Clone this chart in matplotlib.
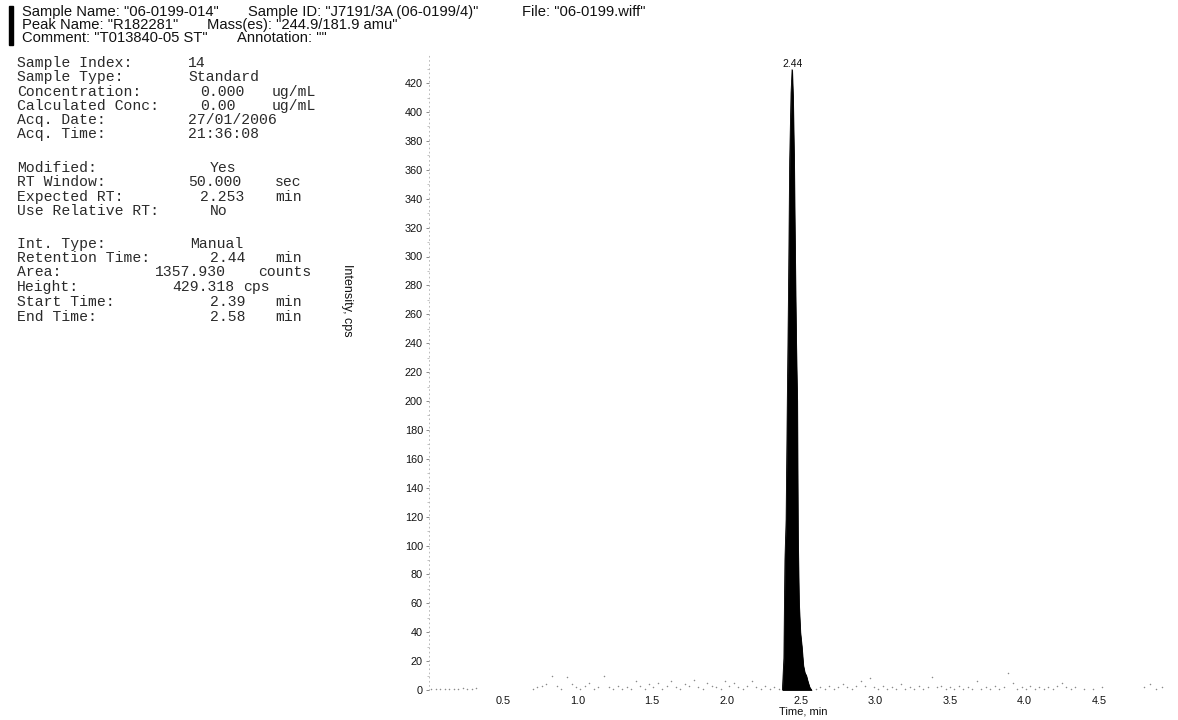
import matplotlib
matplotlib.use("Agg")
import matplotlib.pyplot as plt
from matplotlib.patches import Rectangle

# ---- data -------------------------------------------------------------
# integrated peak (R182281, 244.9/181.9 amu)
peak_time = [2.375, 2.385, 2.392, 2.400, 2.408, 2.416, 2.424, 2.433, 2.440,
             2.446, 2.453, 2.460, 2.467, 2.474, 2.479, 2.486, 2.495, 2.505,
             2.515, 2.525, 2.535, 2.545, 2.557, 2.570]
peak_cps = [0, 22, 90, 118, 200, 275, 367, 413, 429.318,
            410, 367, 298, 240, 200, 105, 60, 40, 30,
            17, 12, 10, 6, 2, 0]
apex_time = 2.44
apex_cps = 429.318

# baseline noise outside the peak
noise_time = [0.02, 0.05, 0.08, 0.11, 0.14, 0.17, 0.20, 0.23, 0.26, 0.29, 0.32,
              0.70, 0.73, 0.76, 0.79, 0.83, 0.86, 0.89, 0.93, 0.96, 0.99,
              1.02, 1.05, 1.08, 1.11, 1.14, 1.18, 1.21, 1.24, 1.27, 1.30,
              1.33, 1.36, 1.39, 1.42, 1.45, 1.48, 1.51, 1.54, 1.57, 1.60,
              1.63, 1.66, 1.69, 1.72, 1.75, 1.78, 1.81, 1.84, 1.87, 1.90,
              1.93, 1.96, 1.99, 2.02, 2.05, 2.08, 2.11, 2.14, 2.17, 2.20,
              2.23, 2.26, 2.29, 2.32, 2.35,
              2.60, 2.63, 2.66, 2.69, 2.72, 2.75, 2.78, 2.81, 2.84, 2.87,
              2.90, 2.93, 2.96, 2.99, 3.02, 3.05, 3.08, 3.11, 3.14, 3.17,
              3.20, 3.23, 3.26, 3.29, 3.32, 3.35, 3.38, 3.41, 3.44, 3.47,
              3.50, 3.53, 3.56, 3.59, 3.62, 3.65, 3.68, 3.71, 3.74, 3.77,
              3.80, 3.83, 3.86, 3.89, 3.92, 3.95, 3.98, 4.01, 4.04, 4.07,
              4.10, 4.13, 4.16, 4.19, 4.22, 4.25, 4.28, 4.31, 4.34, 4.40,
              4.46, 4.52, 4.80, 4.84, 4.88, 4.92]
noise_cps = [0.5, 1.0, 0.5, 1.0, 0.5, 1.0, 0.5, 1.5, 0.5, 1.0, 1.5,
             1.0, 2.0, 3.0, 4.0, 10.0, 3.0, 1.0, 9.0, 4.0, 2.0,
             1.0, 3.0, 5.0, 1.0, 2.0, 10.0, 2.0, 1.0, 3.0, 1.0,
             2.0, 1.0, 6.0, 3.0, 1.0, 4.0, 2.0, 5.0, 1.0, 3.0,
             6.0, 2.0, 1.0, 4.0, 3.0, 7.0, 2.0, 1.0, 5.0, 3.0,
             2.0, 1.0, 6.0, 3.0, 5.0, 2.0, 1.0, 3.0, 6.0, 2.0,
             1.0, 3.0, 1.0, 2.0, 1.0,
             1.0, 2.0, 1.0, 3.0, 1.0, 2.0, 4.0, 2.0, 1.0, 3.0,
             6.0, 3.0, 8.0, 2.0, 1.0, 3.0, 1.0, 2.0, 1.0, 4.0,
             1.0, 2.0, 1.0, 3.0, 1.0, 2.0, 9.0, 2.0, 3.0, 1.0,
             2.0, 1.0, 3.0, 1.0, 2.0, 1.0, 6.0, 1.0, 2.0, 1.0,
             3.0, 1.0, 2.0, 12.0, 5.0, 1.0, 2.0, 1.0, 3.0, 1.0,
             2.0, 1.0, 2.0, 1.0, 3.0, 5.0, 2.0, 1.0, 2.0, 1.0,
             1.0, 2.0, 2.0, 4.0, 1.0, 2.0]

y_ticks = list(range(0, 440, 20))
x_ticks = [0.5, 1.0, 1.5, 2.0, 2.5, 3.0, 3.5, 4.0, 4.5]

# header fields: (line index, x-pixel, text)
header_fields = [
    (0, 22, 'Sample Name: "06-0199-014"'),
    (0, 248, 'Sample ID: "J7191/3A (06-0199/4)"'),
    (0, 522, 'File: "06-0199.wiff"'),
    (1, 22, 'Peak Name: "R182281"'),
    (1, 207, 'Mass(es): "244.9/181.9 amu"'),
    (2, 22, 'Comment: "T013840-05 ST"'),
    (2, 237, 'Annotation: ""'),
]

# (label, value, unit, y-pixel, value-x, unit-x)
info_rows = [
    ("Sample Index:", "14", "", 63, 188, 0),
    ("Sample Type:", "Standard", "", 77, 188, 0),
    ("Concentration:", "0.000", "ug/mL", 92, 200, 272),
    ("Calculated Conc:", "0.00", "ug/mL", 106, 200, 272),
    ("Acq. Date:", "27/01/2006", "", 120, 188, 0),
    ("Acq. Time:", "21:36:08", "", 134, 188, 0),
    ("Modified:", "Yes", "", 168, 210, 0),
    ("RT Window:", "50.000", "sec", 182, 188, 275),
    ("Expected RT:", "2.253", "min", 197, 200, 275),
    ("Use Relative RT:", "No", "", 211, 210, 0),
    ("Int. Type:", "Manual", "", 244, 190, 0),
    ("Retention Time:", "2.44", "min", 258, 210, 275),
    ("Area:", "1357.930", "counts", 272, 155, 258),
    ("Height:", "429.318", "cps", 287, 172, 243),
    ("Start Time:", "2.39", "min", 302, 210, 275),
    ("End Time:", "2.58", "min", 317, 210, 275),
]

# ---- figure -----------------------------------------------------------
W, H = 1178, 720
fig = plt.figure(figsize=(W / 100, H / 100), dpi=100)
fig.patch.set_facecolor("white")


def fx(px):
    return px / W


def fy(py):
    return 1 - py / H


sans = "Liberation Sans"
mono = "Liberation Mono"

# header block with black side bar
fig.patches.append(Rectangle((fx(9), fy(45)), fx(4), 39 / H, transform=fig.transFigure,
                             color="black", zorder=5))
for line_no, px, text in header_fields:
    fig.text(fx(px), fy(12 + 13.2 * line_no), text, family=sans, fontsize=10.6,
             va="center", ha="left", color="#111111")

# sample information panel
for label, value, unit, py, vx, ux in info_rows:
    fig.text(fx(17), fy(py), label, family=mono, fontsize=10.6, va="center",
             ha="left", color="#2a2a2a")
    fig.text(fx(vx), fy(py), value, family=mono, fontsize=10.6, va="center",
             ha="left", color="#2a2a2a")
    if unit:
        fig.text(fx(ux), fy(py), unit, family=mono, fontsize=10.6, va="center",
                 ha="left", color="#2a2a2a")

# chromatogram axes
x_max = 5.03
y_max = 440
ax_left, ax_bottom_px, px_per_cps = 428.5, 690, 1.445
ax = fig.add_axes([fx(ax_left), (H - ax_bottom_px) / H, (W - ax_left) / W,
                   y_max * px_per_cps / H])
ax.set_xlim(0, x_max)
ax.set_ylim(0, y_max)
ax.set_facecolor("none")

ax.scatter(noise_time, noise_cps, s=1.2, color="#8a8a8a", linewidths=0,
           clip_on=False, zorder=2)
ax.fill_between(peak_time, 0, peak_cps, color="black", linewidth=0.6,
                edgecolor="black", zorder=3)
ax.plot(peak_time, peak_cps, color="black", lw=0.6, zorder=3)
ax.annotate(f"{apex_time:.2f}", (apex_time, apex_cps), xytext=(0, 0.5),
            textcoords="offset points", ha="center", va="bottom",
            family=sans, fontsize=7.5, color="#111111")

for side in ("top", "right", "bottom"):
    ax.spines[side].set_visible(False)
ax.spines["left"].set_color("#b0b0b0")
ax.spines["left"].set_linewidth(0.6)
ax.spines["left"].set_linestyle((0, (1, 4)))

ax.set_yticks(y_ticks)
ax.set_yticks(list(range(10, 440, 20)), minor=True)
ax.tick_params(axis="y", which="major", length=2.5, width=0.6, color="#777777",
               labelsize=7.8, pad=1.5, labelcolor="#111111")
ax.tick_params(axis="y", which="minor", length=1.2, width=0.5, color="#aaaaaa")
ax.set_xticks(x_ticks)
ax.set_xticklabels([f"{t:.1f}" for t in x_ticks])
ax.tick_params(axis="x", length=0, labelsize=7.8, pad=4, labelcolor="#111111")
for lab in ax.get_xticklabels() + ax.get_yticklabels():
    lab.set_family(sans)

ax.set_xlabel("Time, min", family=sans, fontsize=8, labelpad=0.5,
              color="#111111")
ax.set_ylabel("Intensity, cps", family=sans, fontsize=9, rotation=270,
              color="#111111")
ax.yaxis.set_label_coords((341 - ax_left) / (W - ax_left),
                          (ax_bottom_px - 300) / (y_max * px_per_cps))

fig.savefig("out.png", dpi=100, facecolor="white")
